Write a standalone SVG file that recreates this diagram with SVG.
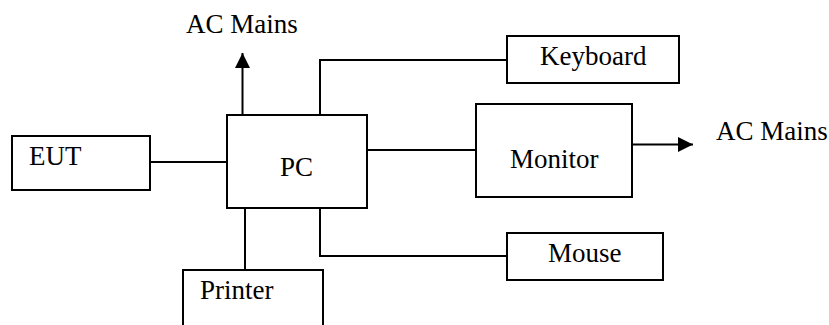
<svg xmlns="http://www.w3.org/2000/svg" width="829" height="325" viewBox="0 0 829 325">
<style>
.box{fill:#fff;stroke:#000;stroke-width:2}
.ln{fill:none;stroke:#000;stroke-width:2}
.t{font-family:'Liberation Serif',serif;font-size:27px;fill:#000}
</style>
<defs>
<marker id="arr" markerUnits="userSpaceOnUse" markerWidth="16" markerHeight="16" viewBox="0 0 16 16" refX="15" refY="8" orient="auto">
<path d="M0,0.5 L15,8 L0,15.5 Z" fill="#000"/>
</marker>
</defs>
<rect width="829" height="325" fill="#fff"/>
<g id="connectors">
<line class="ln" x1="150" y1="162" x2="227" y2="162"/>
<line class="ln" x1="242.5" y1="115" x2="242.5" y2="53" marker-end="url(#arr)"/>
<polyline class="ln" points="320,115 320,60 507,60"/>
<line class="ln" x1="367" y1="150" x2="476" y2="150"/>
<line class="ln" x1="632" y1="144.5" x2="693" y2="144.5" marker-end="url(#arr)"/>
<polyline class="ln" points="320,208 320,256 507,256"/>
<line class="ln" x1="245" y1="208" x2="245" y2="270"/>
</g>
<g id="ac-mains-top"><text class="t" font-family="Liberation Serif" x="186" y="33">AC Mains</text></g>
<g id="eut"><rect class="box" x="12" y="136" width="138" height="54"/><text class="t" font-family="Liberation Serif" x="29" y="165">EUT</text></g>
<g id="pc"><rect class="box" x="227" y="115" width="140" height="93"/><text class="t" font-family="Liberation Serif" x="280" y="176">PC</text></g>
<g id="keyboard"><rect class="box" x="507" y="36" width="172" height="47"/><text class="t" font-family="Liberation Serif" x="540" y="65">Keyboard</text></g>
<g id="monitor"><rect class="box" x="476" y="104" width="156" height="93"/><text class="t" font-family="Liberation Serif" x="510" y="168">Monitor</text></g>
<g id="ac-mains-right"><text class="t" font-family="Liberation Serif" x="716" y="140">AC Mains</text></g>
<g id="mouse"><rect class="box" x="507" y="233" width="156" height="47"/><text class="t" font-family="Liberation Serif" x="548" y="262">Mouse</text></g>
<g id="printer"><rect class="box" x="183" y="270" width="140" height="70"/><text class="t" font-family="Liberation Serif" x="200" y="299">Printer</text></g>
</svg>
